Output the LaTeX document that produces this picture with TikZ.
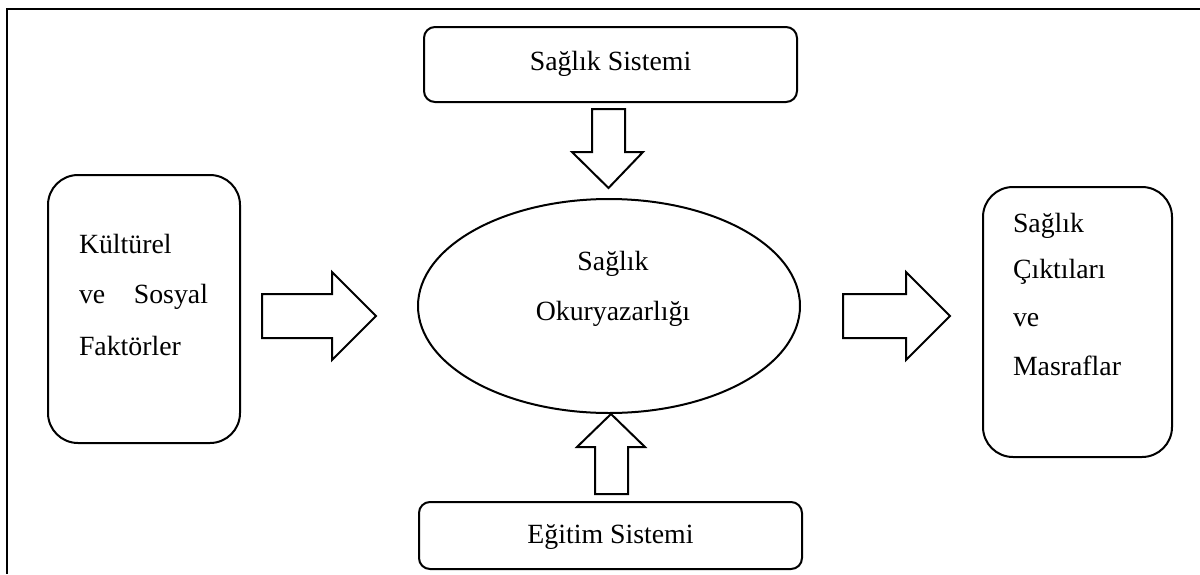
\documentclass[tikz,border=0pt]{standalone}
\usepackage{fontspec}
\setmainfont{Liberation Serif}
\usetikzlibrary{shapes.geometric}
\begin{document}
\begin{tikzpicture}[x=1pt,y=-1pt,
  every node/.style={inner sep=0pt, outer sep=0pt},
  shapeline/.style={draw=black, line width=2pt},
  sysbox/.style={shapeline, rectangle, rounded corners=11pt},
  sidebox/.style={shapeline, rectangle, rounded corners=30pt},
  oval/.style={shapeline, ellipse},
  word/.style={font=\fontsize{27.8}{33}\selectfont, anchor=base},
  lword/.style={font=\fontsize{27.8}{33}\selectfont, anchor=base west},
  blockarrow/.style={draw=black, line width=2pt, line join=miter, fill=white},
  frameline/.style={draw=black, line width=2.6pt}
]
\useasboundingbox (0,0) rectangle (1200,574);

% outer frame (top and left edges)
\coordinate (frameTL) at (7,9);
\coordinate (frameTR) at (1200,9);
\coordinate (frameBL) at (7,574);
\draw[frameline] (frameTR) -- (frameTL) -- (frameBL);

% boxes
\node[sysbox, minimum width=373pt, minimum height=75pt] (health) at (610.5,64.5) {};
\node[sysbox, minimum width=383pt, minimum height=67pt] (edu) at (610.5,535.5) {};
\node[sidebox, minimum width=192pt, minimum height=268pt] (social) at (144,309) {};
\node[sidebox, minimum width=189pt, minimum height=270pt] (outcome) at (1077.5,322) {};
\node[oval, minimum width=382pt, minimum height=214pt] (literacy) at (609,306) {};

% texts
\node[word] (healthT) at (610.5,70) {Sağlık Sistemi};
\node[word] (eduT) at (610.5,543) {Eğitim Sistemi};
\node[word] (litA) at (613,270) {Sağlık};
\node[word] (litB) at (613,320) {Okuryazarlığı};

\node[lword] (socA) at (79,253) {Kültürel};
\node[lword, text width=129pt] (socB) at (79,303) {ve\hfill Sosyal};
\node[lword] (socC) at (79,355) {Faktörler};

\node[lword] (outA) at (1013,232) {Sağlık};
\node[lword] (outB) at (1013,278) {Çıktıları};
\node[lword] (outC) at (1013,326) {ve};
\node[lword] (outD) at (1013,375) {Masraflar};

% block arrows
\draw[blockarrow] (262,294) -- (332,294) -- (332,272) -- (376,316)
  -- (332,360) -- (332,338) -- (262,338) -- cycle;
\draw[blockarrow] (843,294) -- (906,294) -- (906,272) -- (950,316)
  -- (906,360) -- (906,338) -- (843,338) -- cycle;
\draw[blockarrow] (592,109) -- (625,109) -- (625,152) -- (643,152)
  -- (608.5,188) -- (572,152) -- (592,152) -- cycle;
\draw[blockarrow] (595,494) -- (628,494) -- (628,447) -- (645,447)
  -- (611,414) -- (577,447) -- (595,447) -- cycle;
\end{tikzpicture}
\end{document}
